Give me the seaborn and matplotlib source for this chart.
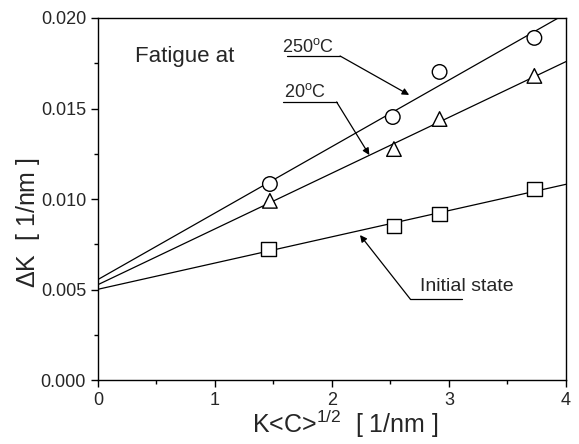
import numpy as np
import pandas as pd
import matplotlib
matplotlib.use('Agg')
import matplotlib.pyplot as plt
import seaborn as sns

# data
x_250 = [1.47, 2.52, 2.92, 3.73]
dk_250 = [0.01083, 0.01453, 0.01702, 0.01890]
x_20 = [1.47, 2.53, 2.92, 3.73]
dk_20 = [0.00990, 0.01276, 0.01442, 0.01680]
x_init = [1.46, 2.53, 2.92, 3.73]
dk_init = [0.00725, 0.00850, 0.00918, 0.01055]

series = ['250C', '20C', 'initial']
markers = {'250C': 'o', '20C': '^', 'initial': 's'}

df = pd.concat([
    pd.DataFrame({'x': x_250, 'dk': dk_250, 'state': '250C'}),
    pd.DataFrame({'x': x_20, 'dk': dk_20, 'state': '20C'}),
    pd.DataFrame({'x': x_init, 'dk': dk_init, 'state': 'initial'}),
], ignore_index=True)

sns.set_style('ticks')
plt.rcParams['font.family'] = ['Liberation Sans', 'DejaVu Sans']
plt.rcParams['mathtext.fontset'] = 'custom'
plt.rcParams['mathtext.rm'] = 'Liberation Sans'
plt.rcParams['mathtext.it'] = 'Liberation Sans:italic'

fig = plt.figure(figsize=(5.79, 4.44), dpi=100)
ax = fig.add_axes([0.169, 0.144, 0.8085, 0.8155])

# linear fits drawn across the whole x range
xs = np.linspace(0, 4, 50)
for name in series:
    sub = df[df['state'] == name]
    slope, icpt = np.polyfit(sub['x'], sub['dk'], 1)
    ax.plot(xs, slope * xs + icpt, color='black', lw=0.9, zorder=1)

sns.scatterplot(data=df, x='x', y='dk', style='state', markers=markers,
                s=110, facecolor='white', edgecolor='black', linewidth=1.0,
                legend=False, ax=ax, zorder=3)

ax.set_xlim(0, 4)
ax.set_ylim(0, 0.02)
ax.set_xticks([0, 1, 2, 3, 4])
ax.set_xticks(np.arange(0.5, 4, 1), minor=True)
ax.set_yticks([0, 0.005, 0.010, 0.015, 0.020])
ax.set_yticks([0.0025, 0.0075, 0.0125, 0.0175], minor=True)
ax.yaxis.set_major_formatter(matplotlib.ticker.FormatStrFormatter('%.3f'))
ax.tick_params(which='major', length=5, width=1, labelsize=13, color='black')
ax.tick_params(which='minor', length=3, width=1, color='black')
for sp in ax.spines.values():
    sp.set_color('black')
    sp.set_linewidth(1)

ax.set_xlabel('K<C>$^{1/2}$  [ 1/nm ]', fontsize=18)
ax.xaxis.set_label_coords(0.528, -0.077)
ax.set_ylabel(r'$\Delta$K  [ 1/nm ]', fontsize=18)
ax.yaxis.set_label_coords(-0.12, 0.436)

ax.text(0.32, 0.0179, 'Fatigue at', fontsize=16, va='center')

# labels with leader lines and arrows
def leader(label, tx, ty, x0, x1, yl, start, ax_, ay_, fs):
    ax.text(tx, ty, label, fontsize=fs, va='baseline', ha='left')
    ax.plot([x0, x1], [yl, yl], color='black', lw=0.9)
    ax.annotate('', xy=(ax_, ay_), xytext=(start, yl),
                arrowprops=dict(arrowstyle='-|>', color='black', lw=0.9,
                                mutation_scale=10, shrinkA=0, shrinkB=0))

leader('250$^{\\mathrm{o}}$C', 1.57, 0.01812, 1.62, 2.07, 0.01790, 2.07, 2.66, 0.01575, 13)
leader('20$^{\\mathrm{o}}$C', 1.59, 0.01564, 1.58, 2.04, 0.01536, 2.04, 2.32, 0.01243, 13)
leader('Initial state', 2.75, 0.00492, 2.67, 3.11, 0.00447, 2.67, 2.24, 0.00801, 14)

fig.savefig('out.png', dpi=100)
